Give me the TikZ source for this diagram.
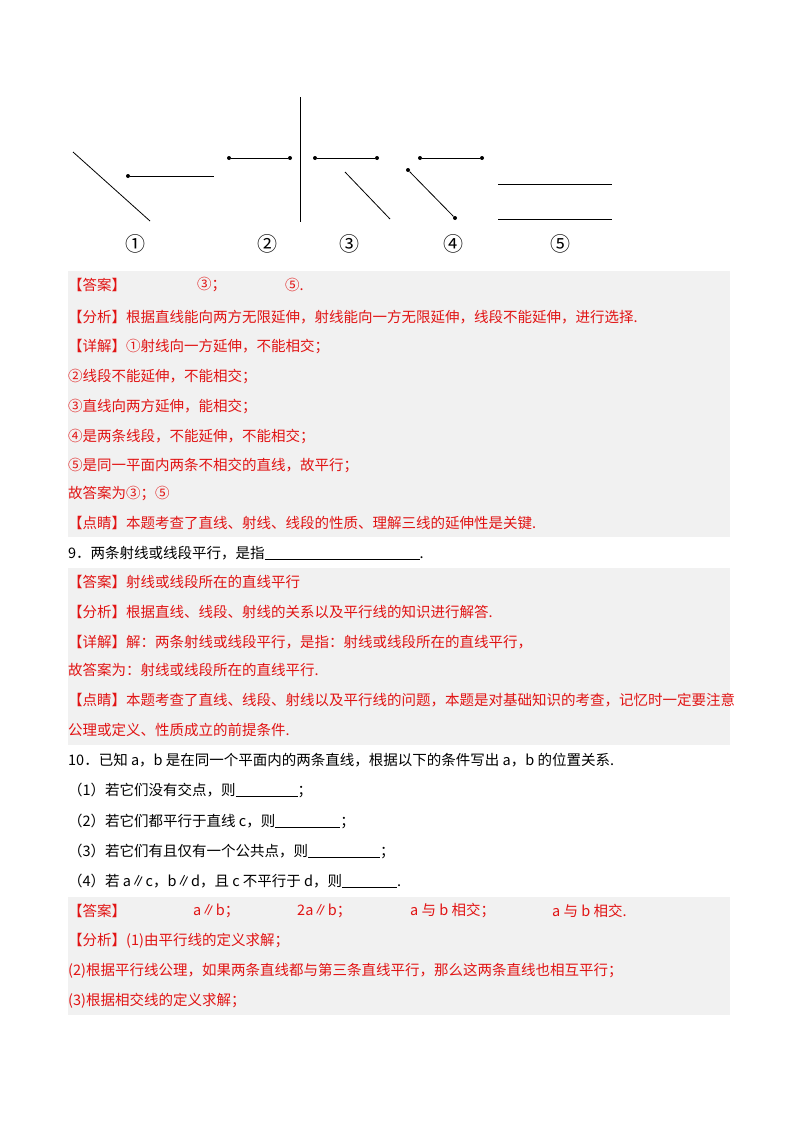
\documentclass[tikz,border=0pt]{standalone}
\usepackage{fontspec}
\setmainfont{Noto Sans CJK SC}
\definecolor{ansred}{RGB}{225,20,20}
\definecolor{band}{RGB}{241,241,241}
\begin{document}
\begin{tikzpicture}[x=1pt,y=-1pt,
  t/.style={anchor=west,inner sep=0pt,font=\fontsize{14.5}{16}\selectfont},
  r/.style={t,text=ansred},
  dot/.style={circle,fill=black,inner sep=0pt,minimum size=4pt},
  num/.style={inner sep=0pt,font=\fontsize{20}{22}\selectfont},
  ln/.style={line width=0.8pt}]
\useasboundingbox (0,0) rectangle (800,1132);
\fill[band] (68,271) rectangle (730,537);
\fill[band] (68,568) rectangle (730,745);
\fill[band] (68,897) rectangle (730,1015);
% figure 1
\coordinate (a1) at (73,152); \coordinate (a2) at (150,221);
\draw[ln] (a1) -- (a2);
\node[dot] (b1) at (128,176) {}; \coordinate (b2) at (214,176);
\draw[ln] (b1) -- (b2);
\node[num] (n1) at (135,244) {①};
% figure 2
\node[dot] (c1) at (229,158) {}; \node[dot] (c2) at (290,158) {};
\draw[ln] (c1) -- (c2);
\coordinate (v1) at (300,97); \coordinate (v2) at (300,222);
\draw[ln] (v1) -- (v2);
\node[num] (n2) at (267,244) {②};
% figure 3
\node[dot] (d1) at (315,158) {}; \node[dot] (d2) at (377,158) {};
\draw[ln] (d1) -- (d2);
\coordinate (e1) at (345,172); \coordinate (e2) at (390,219);
\draw[ln] (e1) -- (e2);
\node[num] (n3) at (349,244) {③};
% figure 4
\node[dot] (f1) at (420,158) {}; \node[dot] (f2) at (482,158) {};
\draw[ln] (f1) -- (f2);
\node[dot] (g1) at (408,170) {}; \node[dot] (g2) at (455,218) {};
\draw[ln] (g1) -- (g2);
\node[num] (n4) at (453,244) {④};
% figure 5
\coordinate (h1) at (498,184); \coordinate (h2) at (612,184);
\coordinate (k1) at (498,219); \coordinate (k2) at (612,219);
\draw[ln] (h1) -- (h2); \draw[ln] (k1) -- (k2);
\node[num] (n5) at (560,244) {⑤};
% block 1
\node[r] (l1) at (68,285) {【答案】};
\node[r] (l1b) at (197,285) {③；};
\node[r] (l1c) at (285,285) {⑤.};
\node[r] (l2) at (68,317) {【分析】根据直线能向两方无限延伸，射线能向一方无限延伸，线段不能延伸，进行选择.};
\node[r] (l3) at (68,347) {【详解】①射线向一方延伸，不能相交；};
\node[r] (l4) at (68,377) {②线段不能延伸，不能相交；};
\node[r] (l5) at (68,407) {③直线向两方延伸，能相交；};
\node[r] (l6) at (68,437) {④是两条线段，不能延伸，不能相交；};
\node[r] (l7) at (68,466) {⑤是同一平面内两条不相交的直线，故平行；};
\node[r] (l8) at (68,494) {故答案为③；⑤};
\node[r] (l9) at (68,523) {【点睛】本题考查了直线、射线、线段的性质、理解三线的延伸性是关键.};
% Q9
\node[t] (q9) at (68,553) {9．两条射线或线段平行，是指\underline{\hspace{155pt}}.};
% block 2
\node[r] (m1) at (68,582) {【答案】射线或线段所在的直线平行};
\node[r] (m2) at (68,612) {【分析】根据直线、线段、射线的关系以及平行线的知识进行解答.};
\node[r] (m3) at (68,642) {【详解】解：两条射线或线段平行，是指：射线或线段所在的直线平行，};
\node[r] (m4) at (68,670) {故答案为：射线或线段所在的直线平行.};
\node[r] (m5) at (68,700) {【点睛】本题考查了直线、线段、射线以及平行线的问题，本题是对基础知识的考查，记忆时一定要注意};
\node[r] (m6) at (68,730) {公理或定义、性质成立的前提条件.};
% Q10
\node[t] (q10) at (68,760) {10．已知 a，b 是在同一个平面内的两条直线，根据以下的条件写出 a，b 的位置关系.};
\node[t] (q1) at (68,790) {（1）若它们没有交点，则\underline{\hspace{62pt}}；};
\node[t] (q2) at (68,821) {（2）若它们都平行于直线 c，则\underline{\hspace{65pt}}；};
\node[t] (q3) at (68,851) {（3）若它们有且仅有一个公共点，则\underline{\hspace{72pt}}；};
\node[t] (q4) at (68,881) {（4）若 a∥c，b∥d，且 c 不平行于 d，则\underline{\hspace{55pt}}.};
% block 3
\node[r] (p1) at (68,911) {【答案】};
\node[r] (p1b) at (193,911) {a∥b；};
\node[r] (p1c) at (297,911) {2a∥b；};
\node[r] (p1d) at (410,911) {a 与 b 相交；};
\node[r] (p1e) at (552,911) {a 与 b 相交.};
\node[r] (p2) at (68,941) {【分析】(1)由平行线的定义求解；};
\node[r] (p3) at (68,971) {(2)根据平行线公理，如果两条直线都与第三条直线平行，那么这两条直线也相互平行；};
\node[r] (p4) at (68,1001) {(3)根据相交线的定义求解；};
\end{tikzpicture}
\end{document}
